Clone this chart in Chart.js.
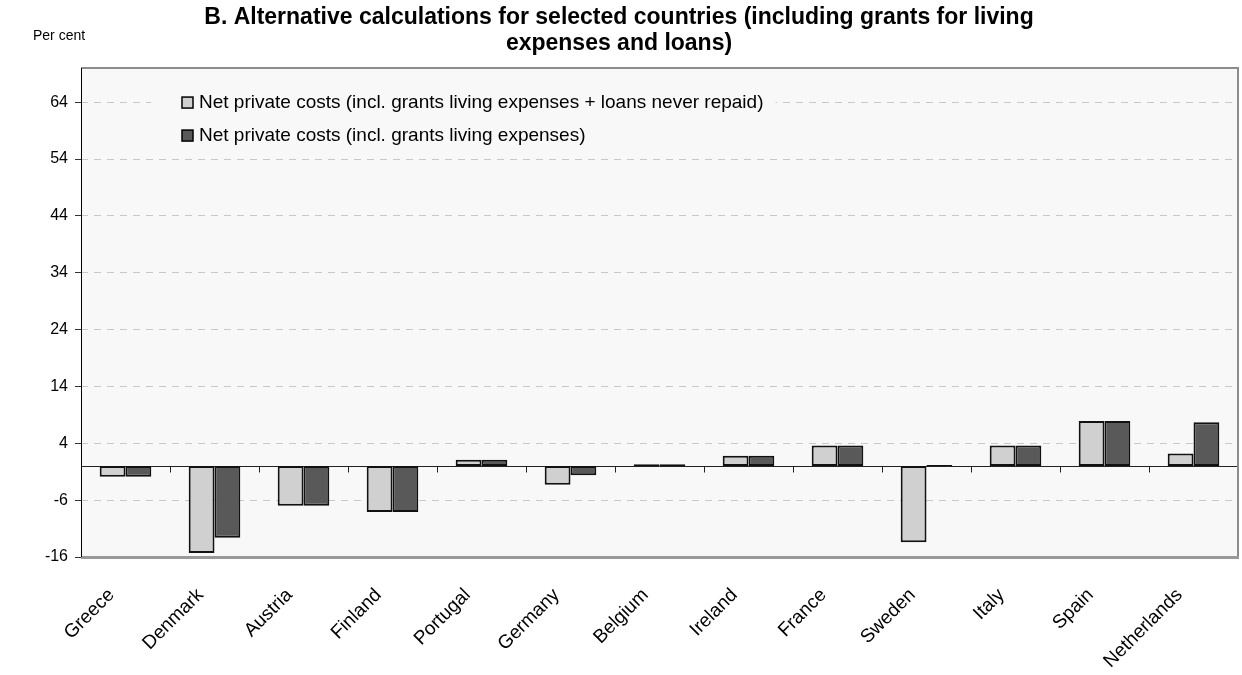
<!DOCTYPE html>
<html>
<head>
<meta charset="utf-8">
<script src="https://cdn.jsdelivr.net/npm/chart.js@4.4.1/dist/chart.umd.min.js"></script>
<style>
  html, body { margin: 0; padding: 0; background: #fff; }
  #wrap { width: 1242px; height: 675px; }
</style>
</head>
<body>
<div id="wrap"><canvas id="costChart"></canvas></div>
<script>
// countries, in the order they are plotted
const countries = ['Greece', 'Denmark', 'Austria', 'Finland', 'Portugal', 'Germany', 'Belgium',
  'Ireland', 'France', 'Sweden', 'Italy', 'Spain', 'Netherlands'];

// net private costs incl. grants for living expenses + loans never repaid (%)
const withLoans = [-1.9, -15.3, -7.0, -8.1, 1.1, -3.3, 0.3, 1.8, 3.6, -13.4, 3.6, 7.9, 2.2];

// net private costs incl. grants for living expenses (%)
const grantsOnly = [-1.9, -12.6, -7.0, -8.1, 1.1, -1.6, 0.3, 1.8, 3.6, 0.2, 3.6, 7.9, 7.7];

const yTicks = [-16, -6, 4, 14, 24, 34, 44, 54, 64];

const FONT = 'Arial, "Liberation Sans", sans-serif';

// plot background, frame, zero line and the little category ticks on it
const frame = {
  id: 'frame',
  beforeDraw(chart) {
    const { ctx, chartArea: a } = chart;
    ctx.save();
    ctx.fillStyle = '#f8f8f8';
    ctx.fillRect(a.left, a.top, a.right - a.left, a.bottom - a.top);
    ctx.restore();
  },
  beforeDatasetsDraw(chart) {
    const { ctx, chartArea: a, scales: { x, y } } = chart;
    const y0 = Math.round(y.getPixelForValue(0)) + 0.5;
    ctx.save();
    ctx.strokeStyle = '#222';
    ctx.lineWidth = 1;
    ctx.beginPath();
    ctx.moveTo(a.left, y0);
    ctx.lineTo(a.right, y0);
    for (let i = 1; i < countries.length; i++) {
      const bx = Math.round((x.getPixelForValue(i - 1) + x.getPixelForValue(i)) / 2) + 0.5;
      ctx.moveTo(bx, y0);
      ctx.lineTo(bx, y0 + 6);
    }
    ctx.stroke();
    ctx.restore();
  },
  afterDatasetsDraw(chart) {
    const { ctx, chartArea: a } = chart;
    ctx.save();
    ctx.strokeStyle = '#8c8c8c';
    ctx.lineWidth = 2;
    ctx.beginPath();
    ctx.moveTo(a.left, a.top);
    ctx.lineTo(a.right, a.top);
    ctx.lineTo(a.right, a.bottom);
    ctx.stroke();
    ctx.lineWidth = 3;
    ctx.strokeStyle = '#999';
    ctx.beginPath();
    ctx.moveTo(a.left, a.bottom + 0.5);
    ctx.lineTo(a.right + 1, a.bottom + 0.5);
    ctx.stroke();
    ctx.strokeStyle = '#000';
    ctx.lineWidth = 1;
    ctx.beginPath();
    ctx.moveTo(a.left + 0.5, a.top);
    ctx.lineTo(a.left + 0.5, a.bottom);
    ctx.stroke();

    // axis unit
    ctx.fillStyle = '#000';
    ctx.font = '14px ' + FONT;
    ctx.textBaseline = 'middle';
    ctx.textAlign = 'left';
    ctx.fillText('Per cent', 33, 36);
    ctx.restore();
  }
};

// legend sitting inside the plot, top left
const innerLegend = {
  id: 'innerLegend',
  afterDraw(chart) {
    const { ctx, chartArea: a } = chart;
    const sets = chart.data.datasets;
    ctx.save();
    ctx.font = '19px ' + FONT;
    const widest = Math.max(...sets.map(d => ctx.measureText(d.label).width));
    const left = a.left + 70;
    const top = a.top + 18;
    ctx.fillStyle = '#f8f8f8';
    ctx.fillRect(left, top, widest + 60, 33 * sets.length + 4);
    ctx.textBaseline = 'middle';
    sets.forEach((d, i) => {
      const cy = top + 16 + i * 33;
      ctx.fillStyle = d.backgroundColor;
      ctx.fillRect(left + 31, cy - 5, 11, 11);
      ctx.strokeStyle = '#000';
      ctx.lineWidth = 1.5;
      ctx.strokeRect(left + 31, cy - 5, 11, 11);
      ctx.fillStyle = '#000';
      ctx.fillText(d.label, left + 48, cy + 1);
    });
    ctx.restore();
  }
};

new Chart(document.getElementById('costChart'), {
  type: 'bar',
  data: {
    labels: countries,
    datasets: [{
      label: 'Net private costs (incl. grants living expenses + loans never repaid)',
      data: withLoans,
      backgroundColor: '#d0d0d0',
      borderColor: '#111',
      borderWidth: 2,
      borderSkipped: false
    }, {
      label: 'Net private costs (incl. grants living expenses)',
      data: grantsOnly,
      backgroundColor: '#595959',
      borderColor: '#111',
      borderWidth: 2,
      borderSkipped: false
    }]
  },
  options: {
    responsive: true,
    maintainAspectRatio: false,
    animation: false,
    categoryPercentage: 0.58,
    barPercentage: 1.0,
    layout: { padding: { left: 0, right: 4, top: 0, bottom: 0 } },
    plugins: {
      legend: { display: false },
      tooltip: { enabled: false },
      title: {
        display: true,
        text: ['B. Alternative calculations for selected countries (including grants for living',
          'expenses and loans)'],
        color: '#000',
        font: { family: FONT, size: 23, weight: 'bold', lineHeight: 1.11 },
        padding: { top: 5, bottom: 12 }
      }
    },
    scales: {
      x: {
        grid: { display: false },
        border: { display: false },
        ticks: {
          autoSkip: false,
          maxRotation: 45,
          minRotation: 45,
          color: '#000',
          font: { family: FONT, size: 19 },
          padding: 19,
          labelOffset: -14
        },
        afterFit(scale) { scale.height = 118; }
      },
      y: {
        min: -16,
        max: 70,
        afterBuildTicks(scale) { scale.ticks = yTicks.map(v => ({ value: v })); },
        grid: {
          color: '#c8c8c8',
          lineWidth: 1,
          tickColor: '#333',
          tickLength: 6
        },
        border: { display: false, dash: [7, 6] },
        ticks: {
          color: '#000',
          font: { family: FONT, size: 16 },
          padding: 7
        },
        afterFit(scale) { scale.width = 81; }
      }
    }
  },
  plugins: [frame, innerLegend]
});
</script>
</body>
</html>
